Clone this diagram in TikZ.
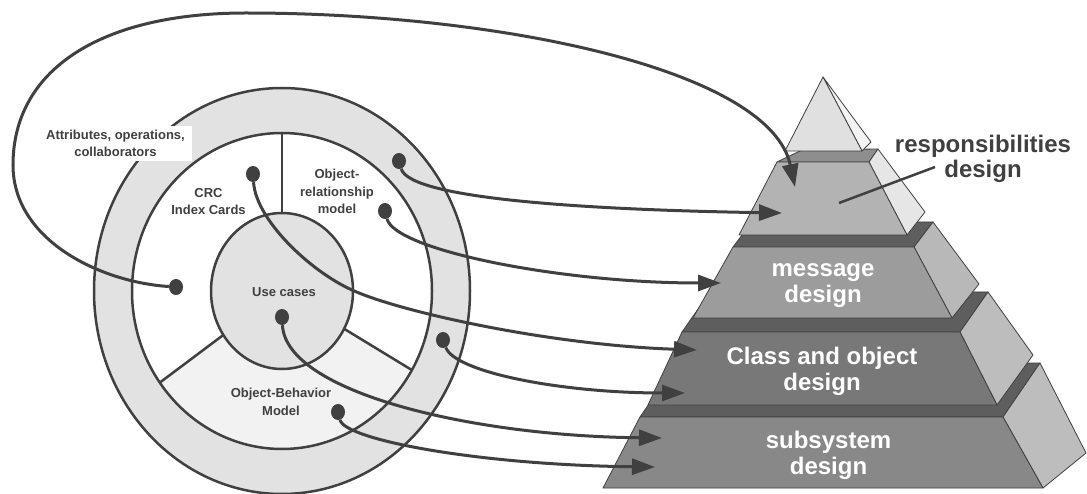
\documentclass[tikz,border=0pt]{standalone}
\usepackage{fontspec}
\setmainfont{Liberation Sans}
\usetikzlibrary{shapes.geometric,arrows.meta}
\definecolor{ink}{HTML}{404040}
\definecolor{ring}{HTML}{E2E2E2}
\definecolor{sector}{HTML}{F2F2F2}
\definecolor{tri}{HTML}{E0E0E0}
\definecolor{triside}{HTML}{F4F4F4}
\definecolor{ltop}{HTML}{8E8E8E}
\definecolor{lfront}{HTML}{B3B3B3}
\definecolor{lside}{HTML}{E6E6E6}
\definecolor{dtop}{HTML}{5E5E5E}
\definecolor{mfront}{HTML}{9C9C9C}
\definecolor{mside}{HTML}{B8B8B8}
\definecolor{cfront}{HTML}{787878}
\definecolor{sfront}{HTML}{888888}
\definecolor{gside}{HTML}{BDBDBD}
\begin{document}
\begin{tikzpicture}[x=1pt,y=-1pt,
  conn/.style={draw=ink,line width=3pt,-{Triangle[length=23pt,width=16pt]}},
  dotnode/.style={ellipse,fill=ink,minimum width=14pt,minimum height=16pt,inner sep=0pt},
  small/.style={font=\fontsize{13}{17.5}\selectfont\bfseries,text=ink,align=center,inner sep=0pt},
  big/.style={font=\fontsize{24}{26}\selectfont\bfseries,text=white,align=center,inner sep=0pt},
  face/.style={draw=ink,line width=0.8pt,line join=round},
  outline/.style={draw=ink,line width=2.5pt}]
\useasboundingbox (0,0) rectangle (1087,494);
\begin{scope}
\clip (0,0) rectangle (1087,494);
% rings
\fill[ring] (282,291) ellipse [x radius=188pt,y radius=203pt];
\draw[outline] (282,291) ellipse [x radius=188pt,y radius=203pt];
\fill[white] (282,291) ellipse [x radius=150pt,y radius=158pt];
\begin{scope}
\clip (282,291) -- (122,411) -- (282,520) -- (453,395) -- cycle;
\fill[sector] (282,291) ellipse [x radius=150pt,y radius=158pt];
\end{scope}
\draw[outline] (282,291) ellipse [x radius=150pt,y radius=158pt];
\coordinate (c) at (282,291);
\coordinate (vtop) at (282,133);
\coordinate (ll) at (159.8,382.6);
\coordinate (lr) at (411.8,370);
\draw[outline] (c) -- (vtop);
\draw[outline] (c) -- (ll);
\draw[outline] (c) -- (lr);
\fill[ring] (282,291) ellipse [x radius=71pt,y radius=78pt];
\draw[outline] (282,291) ellipse [x radius=71pt,y radius=78pt];
\end{scope}
% labels in circle
\node[small,fill=white,minimum width=153pt,minimum height=35pt] (attr) at (115.5,143.5) {Attributes, operations,\\collaborators};
\node[small] (crc) at (208.5,201.5) {CRC\\Index Cards};
\node[small] (orm) at (337,191.5) {Object-\\relationship\\model};
\node[small] (uc) at (284,292) {Use cases};
\node[small] (obm) at (281,402) {Object-Behavior\\Model};
% pyramid level 5
\filldraw[face,fill=dtop] (640,417) -- (1003,417) -- (1040,363) -- (677,363) -- cycle;
\filldraw[face,fill=gside] (1003,417) -- (1040,363) -- (1086,453) -- (1043,488) -- cycle;
\filldraw[face,fill=sfront] (640,417) -- (1003,417) -- (1043,488) -- (603,488) -- cycle;
% level 4
\filldraw[face,fill=dtop] (682,332) -- (960,332) -- (988,292) -- (710,292) -- cycle;
\filldraw[face,fill=gside] (960,332) -- (988,292) -- (1033,355) -- (997,405) -- cycle;
\filldraw[face,fill=cfront] (682,332) -- (960,332) -- (997,405) -- (648,405) -- cycle;
% level 3
\filldraw[face,fill=dtop] (733,247) -- (914,247) -- (933,222) -- (752,222) -- cycle;
\filldraw[face,fill=mside] (914,247) -- (933,222) -- (979,284) -- (952,318) -- cycle;
\filldraw[face,fill=mfront] (733,247) -- (914,247) -- (952,318) -- (693,318) -- cycle;
% level 2
\filldraw[face,fill=ltop] (777,162) -- (869,162) -- (878,149) -- (802,150) -- cycle;
\filldraw[face,fill=lside] (869,162) -- (878,149) -- (925,212) -- (907,235) -- cycle;
\filldraw[face,fill=lfront] (777,162) -- (869,162) -- (907,235) -- (739,235) -- cycle;
% top
\filldraw[face,fill=triside] (823,77) -- (871,142) -- (862,151) -- cycle;
\filldraw[face,fill=tri] (823,77) -- (862,151) -- (785,151) -- cycle;
% pyramid labels
\node[big] (msg) at (823,284.3) {\strut message\\\strut design};
\node[big] (cls) at (822,371.8) {\strut Class and object\\\strut design};
\node[big] (sub) at (828.5,455.8) {\strut subsystem\\\strut design};
\node[big,text=ink,font=\fontsize{24}{21}\selectfont\bfseries] (resp) at (983,159.8) {\strut responsibilities\\\strut design};
\coordinate (rq) at (935,167);
\coordinate (rp) at (839,203);
\draw[ink,line width=2.5pt] (rq) -- (rp);
% dots
\node[dotnode] (d1) at (399,161) {};
\node[dotnode] (d2) at (385,211) {};
\node[dotnode] (d3) at (253,174) {};
\node[dotnode] (d4) at (443,340) {};
\node[dotnode] (d5) at (282,317) {};
\node[dotnode] (d6) at (338,412) {};
\node[dotnode] (d7) at (176,287) {};
% tips
\coordinate (t1) at (782,213);
\coordinate (t2) at (721,283);
\coordinate (t3) at (697,350);
\coordinate (t4) at (685,393);
\coordinate (t5) at (662,438);
\coordinate (t6) at (655,467);
\coordinate (t7) at (795,187);
% connectors
\draw[conn] (d1) .. controls (410,200) and (600,210) .. (t1);
\draw[conn] (d2) .. controls (395,250) and (560,283) .. (t2);
\draw[conn] (d3) .. controls (256,220) and (310,271) .. (352,290) .. controls (400,312) and (550,345) .. (t3);
\draw[conn] (d4) .. controls (455,372) and (560,393) .. (t4);
\draw[conn] (d5) .. controls (286,392) and (470,436) .. (t5);
\draw[conn] (d6) .. controls (345,440) and (480,465) .. (t6);
\draw[conn] (d7) .. controls (100,282) and (13,240) .. (13,165) .. controls (13,70) and (100,13) .. (246,13) .. controls (500,13) and (770,70) .. (t7);
\end{tikzpicture}
\end{document}
